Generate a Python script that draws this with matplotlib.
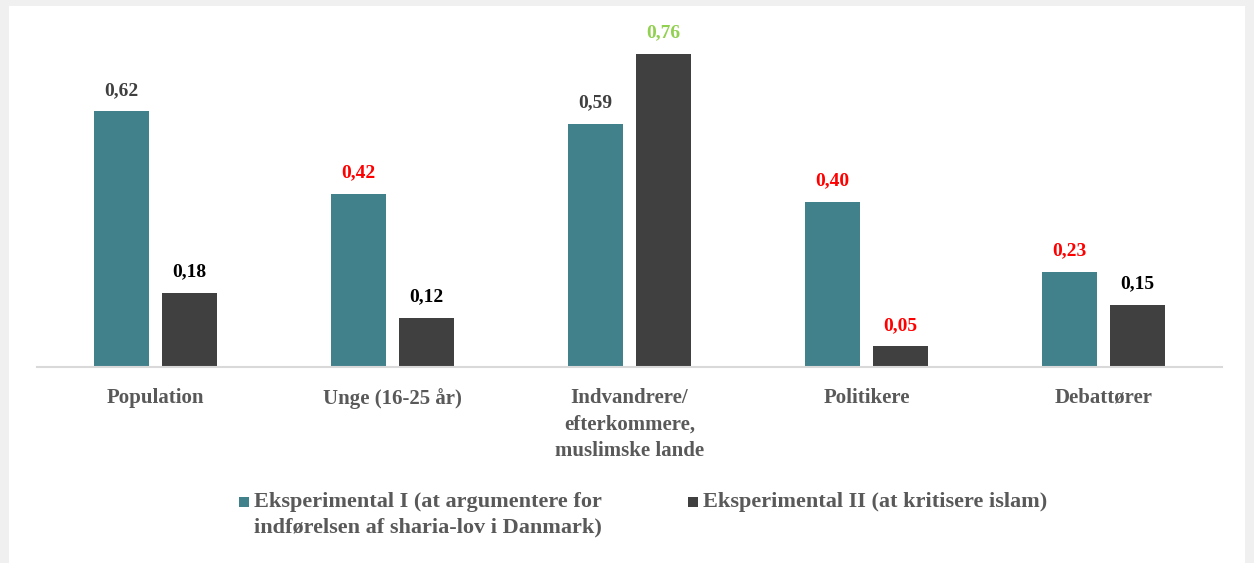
import matplotlib.pyplot as plt
import numpy as np
from matplotlib.patches import Rectangle

categories = ['Population', 'Unge (16-25 år)', 'Indvandrere/\nefterkommere,\nmuslimske lande',
              'Politikere', 'Debattører']
exp1 = [0.62, 0.42, 0.59, 0.40, 0.23]
exp2 = [0.18, 0.12, 0.76, 0.05, 0.15]
exp1_label_colors = ['#404040', '#FF0000', '#404040', '#FF0000', '#FF0000']
exp2_label_colors = ['#000000', '#000000', '#92D050', '#FF0000', '#000000']
series_names = ['Eksperimental I (at argumentere for\nindførelsen af sharia-lov i Danmark)',
                'Eksperimental II (at kritisere islam)']
series_colors = ['#41818B', '#404040']

plt.rcParams['font.family'] = ['Liberation Serif', 'DejaVu Serif']
plt.rcParams['font.weight'] = 'bold'

fig = plt.figure(figsize=(12.54, 5.63), dpi=100)
fig.patch.set_facecolor('#F0F0F0')
fig.patches.append(Rectangle((9 / 1254, 0), 1236 / 1254, 557 / 563,
                             transform=fig.transFigure, facecolor='white',
                             edgecolor='none', zorder=-5))

ax = fig.add_axes([37 / 1254, 196 / 563, 1185 / 1254, 330 / 563])
ax.set_facecolor('none')

x = np.arange(len(categories))
width = 0.228
off = 0.1435
b1 = ax.bar(x - off, exp1, width, color=series_colors[0])
b2 = ax.bar(x + off, exp2, width, color=series_colors[1])

for bars, vals, cols in [(b1, exp1, exp1_label_colors), (b2, exp2, exp2_label_colors)]:
    for rect, v, c in zip(bars, vals, cols):
        ax.annotate(f'{v:.2f}'.replace('.', ','), (rect.get_x() + rect.get_width() / 2, v),
                    xytext=(0, 9), textcoords='offset points', ha='center', va='bottom',
                    fontsize=14, fontweight='bold', color=c)

ax.set_xlim(-0.5, len(categories) - 0.5)
ax.set_ylim(0, 0.8)
ax.set_yticks([])
for s in ['top', 'right', 'left']:
    ax.spines[s].set_visible(False)
ax.spines['bottom'].set_color('#D9D9D9')
ax.spines['bottom'].set_linewidth(1.5)
ax.set_xticks(x)
ax.set_xticklabels(categories, fontsize=15, fontweight='bold', color='#595959',
                   linespacing=1.45)
ax.tick_params(axis='x', length=0, pad=15)

# legend drawn by hand so the square lines up with the first text line
legend_x = [239 / 1254, 688 / 1254]
for lx, name, col in zip(legend_x, series_names, series_colors):
    fig.patches.append(Rectangle((lx, 1 - 507 / 563), 10 / 1254, 10 / 563,
                                 transform=fig.transFigure, facecolor=col,
                                 edgecolor='none'))
    fig.text(lx + 15 / 1254, 1 - 492 / 563, name, ha='left', va='top',
             fontsize=16, fontweight='bold', color='#595959', linespacing=1.35)

fig.savefig('out.png', dpi=100, facecolor=fig.get_facecolor())
